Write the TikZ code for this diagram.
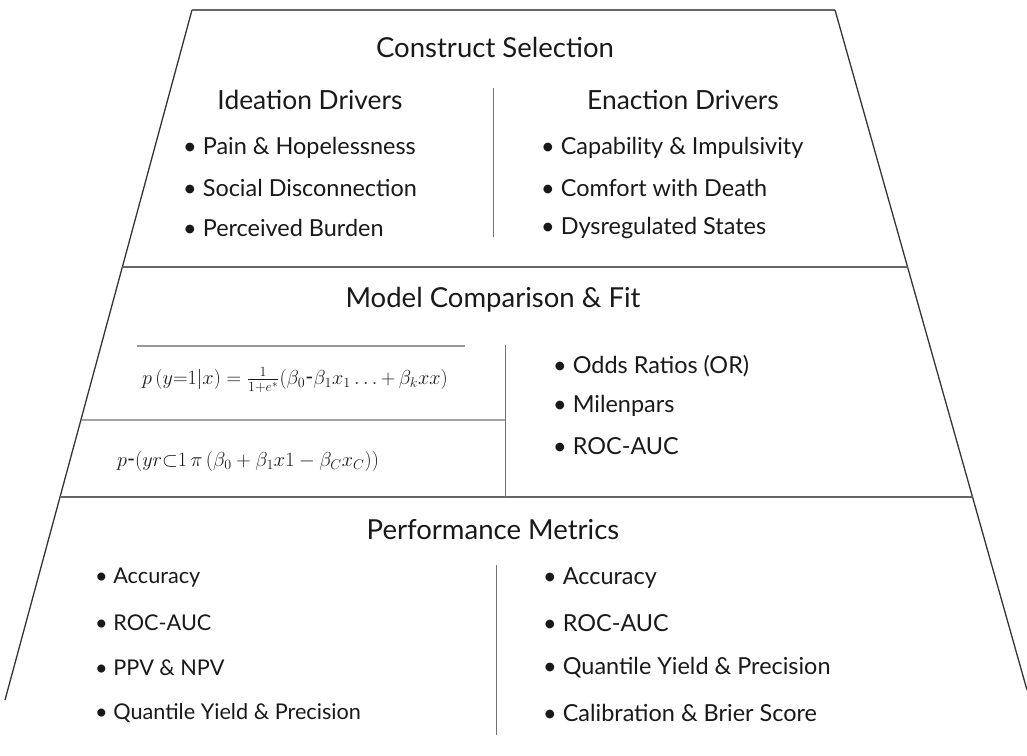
\documentclass[tikz,border=0pt]{standalone}
\usepackage{amsmath}
\usepackage{fontspec}
\setmainfont{Lato}
\usetikzlibrary{positioning}

\tikzset{
  title/.style={font=\fontsize{23.5}{27}\selectfont, text=black!90},
  head/.style={font=\fontsize{22.5}{26}\selectfont, text=black!90},
  item/.style={font=\fontsize{20}{24}\selectfont, text=black!90, anchor=west, inner sep=0pt},
  smallitem/.style={item, font=\fontsize{18.5}{22}\selectfont},
  formula/.style={font=\fontsize{18.5}{22}\selectfont, text=black!90},
  frame/.style={draw=black!80, line width=1.1pt},
  band/.style={draw=black!60, line width=1.5pt},
  divider/.style={draw=black!55, line width=0.7pt},
}

\begin{document}
\begin{tikzpicture}[x=0.03cm, y=-0.03cm]
    \useasboundingbox (0,0) rectangle (1027,756);

    % Outline corners
    \coordinate (tl) at (192,10);
    \coordinate (tr) at (835,10);
    \coordinate (bl) at (5,700);
    \coordinate (br) at (1027,690);

    % Band borders on the slanted sides
    \coordinate (ml) at (intersection of tl--bl and 0,267--100,267);
    \coordinate (mr) at (intersection of tr--br and 0,267--100,267);
    \coordinate (ll) at (intersection of tl--bl and 0,497--100,497);
    \coordinate (lr) at (intersection of tr--br and 0,497--100,497);

    % Outline
    \draw[frame] (bl) -- (tl);
    \draw[band] (tl) -- (tr);
    \draw[frame] (tr) -- (br);
    \draw[band] (ml) -- (mr);
    \draw[band] (ll) -- (lr);

    % Top band: construct selection
    \node[title] (sel) at (495,47) {Construct Selection};
    \coordinate (selTop) at (493,88);
    \coordinate (selBot) at (493,237);
    \draw[divider] (selTop) -- (selBot);

    \node[head] (ideation) at (310,100) {Ideation Drivers};
    \node[head] (enaction) at (683,100) {Enaction Drivers};
    \foreach \t [count=\i] in {Pain \& Hopelessness, Social Disconnection, Perceived Burden}
        \node[item] (ide\i) at (183,108+40*\i) {\textbullet~\t};
    \foreach \t [count=\i] in {Capability \& Impulsivity, Comfort with Death, Dysregulated States}
        \node[item] (ena\i) at (541,108+40*\i) {\textbullet~\t};

    % Middle band: model comparison
    \node[title] (fit) at (493,300) {Model Comparison \& Fit};
    \coordinate (fitTopL) at (137,346);
    \coordinate (fitTopR) at (465,346);
    \draw[divider, draw=black!40, line width=1pt] (fitTopL) -- (fitTopR);
    \coordinate (fitMidL) at (intersection of tl--bl and 0,420--100,420);
    \coordinate (fitMidR) at (505,420);
    \draw[divider, line width=1pt] (fitMidL) -- (fitMidR);
    \coordinate (fitDivT) at (505,345);
    \coordinate (fitDivB) at (505,497);
    \draw[divider] (fitDivT) -- (fitDivB);

    \node[formula] (logit) at (295,380)
        {$p\,(y{=}1|x) = \frac{1}{1+e^{\ast}}(\beta_0\text{-}\beta_1 x_1\ldots{+}\,\beta_k x x)$};
    \node[formula, anchor=west] (linear) at (113,461)
        {$p\text{-}(yr{\subset}1\,\pi\,(\beta_0+\beta_1 x1-\beta_C x_C))$};

    \foreach \t [count=\i] in {Odds Ratios (OR), Milenpars, ROC-AUC}
        \node[item] (fitm\i) at (553,326+40*\i) {\textbullet~\t};

    % Bottom band: performance metrics
    \node[title] (perf) at (493,530) {Performance Metrics};
    \coordinate (perfTop) at (496,565);
    \coordinate (perfBot) at (496,735);
    \draw[divider] (perfTop) -- (perfBot);

    \foreach \t [count=\i] in {Accuracy, ROC-AUC, PPV \& NPV, Quantile Yield \& Precision}
        \node[smallitem] (perfl\i) at (95,533+45*\i) {\textbullet~\t};
    \foreach \t [count=\i] in {Accuracy, ROC-AUC, Quantile Yield \& Precision, Calibration \& Brier Score}
        \node[item] (perfr\i) at (543,533+45*\i) {\textbullet~\t};
\end{tikzpicture}
\end{document}
